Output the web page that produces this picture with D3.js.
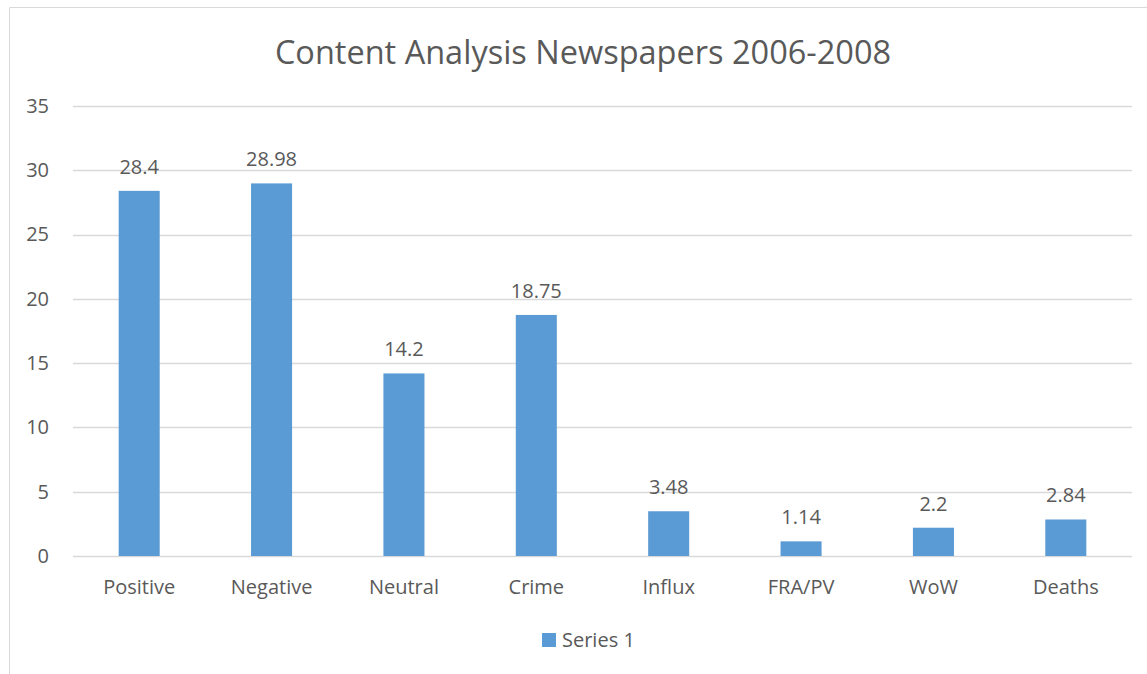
<!DOCTYPE html>
<html>
<head>
<meta charset="utf-8">
<script src="https://cdn.jsdelivr.net/npm/d3@7"></script>
<style>
  html, body { margin: 0; padding: 0; background: #fff; }
  svg { display: block; }
  text { font-family: "Open Sans", "Noto Sans", sans-serif; fill: #595959; }
</style>
</head>
<body>
<svg id="chart" width="1147" height="674"></svg>
<script>
// Chart data
const categories = ["Positive", "Negative", "Neutral", "Crime", "Influx", "FRA/PV", "WoW", "Deaths"];
const values = [28.4, 28.98, 14.2, 18.75, 3.48, 1.14, 2.2, 2.84];
const yTicks = [0, 5, 10, 15, 20, 25, 30, 35];
const seriesName = "Series 1";
const title = "Content Analysis Newspapers 2006-2008";

const W = 1147, H = 674;
const margin = { left: 73, right: 15, top: 106, bottom: 118 };
const barColor = "#5B9BD5";
const gridColor = "#D9D9D9";
const labelSize = "20px";

const svg = d3.select("#chart");

// chart-area border (left and top edges visible)
svg.append("line").attr("x1", 9.5).attr("x2", W).attr("y1", 7.5).attr("y2", 7.5)
  .attr("stroke", gridColor).attr("stroke-width", 1);
svg.append("line").attr("x1", 9.5).attr("x2", 9.5).attr("y1", 7.5).attr("y2", H)
  .attr("stroke", gridColor).attr("stroke-width", 1);

const x = d3.scaleBand()
  .domain(categories)
  .range([margin.left, W - margin.right])
  .paddingInner(0.69)
  .paddingOuter(0.345);

const y = d3.scaleLinear()
  .domain([0, 35])
  .range([H - margin.bottom, margin.top]);

// horizontal gridlines
svg.append("g").selectAll("line")
  .data(yTicks)
  .join("line")
  .attr("x1", margin.left).attr("x2", W - margin.right)
  .attr("y1", d => Math.round(y(d)) + 0.5).attr("y2", d => Math.round(y(d)) + 0.5)
  .attr("stroke", gridColor).attr("stroke-width", 1.5);

// y axis labels
const yAxis = d3.axisLeft(y).tickValues(yTicks).tickSize(0).tickPadding(0);
const yG = svg.append("g").attr("transform", `translate(${49},0)`).call(yAxis);
yG.select(".domain").remove();
yG.selectAll("text").style("font-size", labelSize).attr("fill", "#595959")
  .style("font-family", '"Open Sans", sans-serif');

// x axis labels
const xAxis = d3.axisBottom(x).tickSize(0).tickPadding(0);
const xG = svg.append("g").attr("transform", `translate(0,${y(0) + 24})`).call(xAxis);
xG.select(".domain").remove();
xG.selectAll("text").style("font-size", labelSize).attr("fill", "#595959")
  .style("font-family", '"Open Sans", sans-serif');

// bars
svg.append("g").selectAll("rect")
  .data(values)
  .join("rect")
  .attr("x", (d, i) => x(categories[i]))
  .attr("width", x.bandwidth())
  .attr("y", d => y(d))
  .attr("height", d => y(0) - y(d))
  .attr("fill", barColor);

// value labels
svg.append("g").selectAll("text")
  .data(values)
  .join("text")
  .attr("x", (d, i) => x(categories[i]) + x.bandwidth() / 2)
  .attr("y", d => y(d) - 17)
  .attr("text-anchor", "middle")
  .style("font-size", labelSize)
  .text(d => d);

// title
svg.append("text")
  .attr("x", 583).attr("y", 64)
  .attr("text-anchor", "middle")
  .style("font-size", "32.5px")
  .text(title);

// legend
const lg = svg.append("g").attr("transform", "translate(542,633)");
lg.append("rect").attr("width", 14).attr("height", 14).attr("fill", barColor);
lg.append("text").attr("x", 20).attr("y", 14).style("font-size", labelSize).text(seriesName);
</script>
</body>
</html>
